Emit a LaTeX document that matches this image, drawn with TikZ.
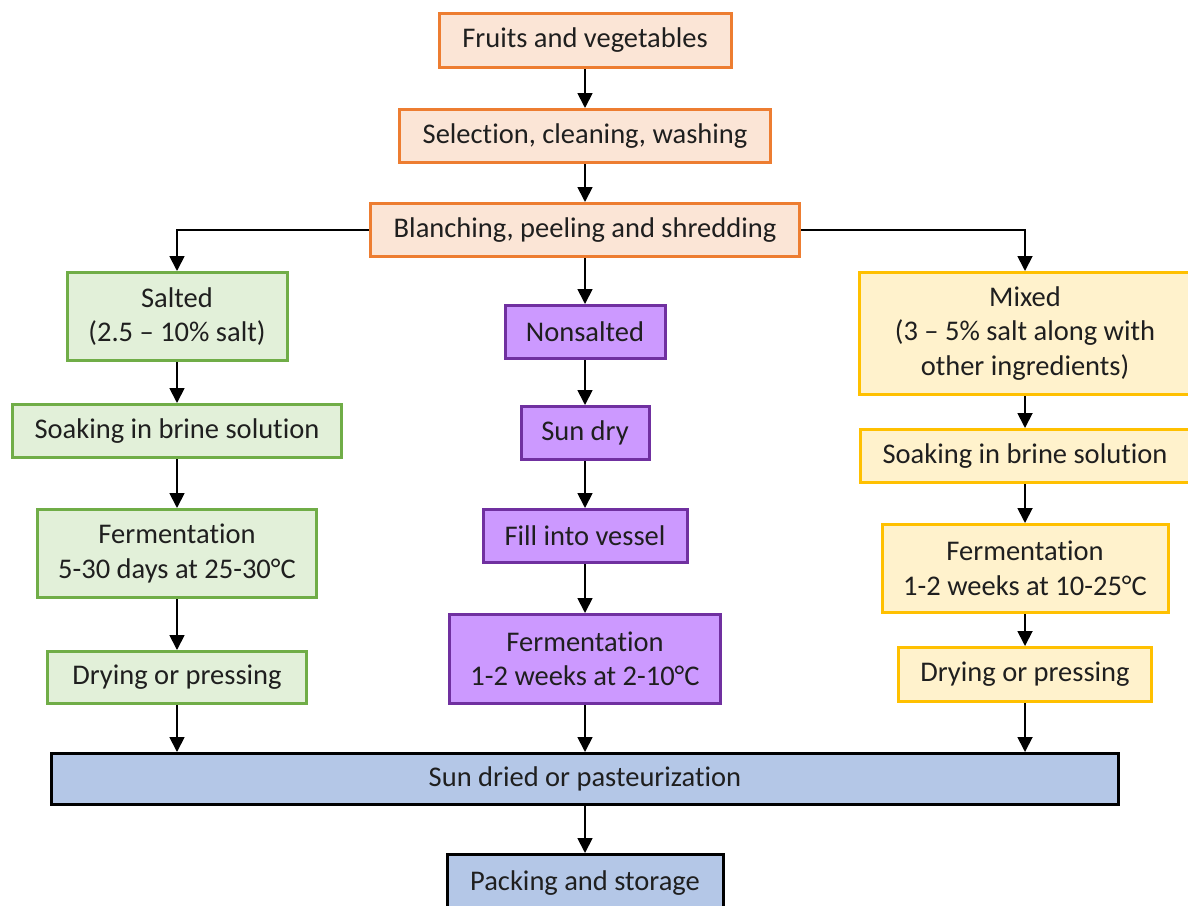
\documentclass[tikz,border=0pt]{standalone}
\usepackage{fontspec}
\setmainfont[RawFeature={-liga;-clig;-calt;-dlig}]{Carlito}
\usetikzlibrary{arrows.meta}
\definecolor{oB}{HTML}{ED7D31}\definecolor{oF}{HTML}{FBE5D6}
\definecolor{gB}{HTML}{70AD47}\definecolor{gF}{HTML}{E2F0D9}
\definecolor{pB}{HTML}{7030A0}\definecolor{pF}{HTML}{CC99FF}
\definecolor{yB}{HTML}{FFC000}\definecolor{yF}{HTML}{FFF2CC}
\definecolor{bF}{HTML}{B4C7E7}
\definecolor{txt}{HTML}{1F1F1F}
\begin{document}
\begin{tikzpicture}[x=1pt,y=-1pt,
  box/.style={rectangle,line width=3pt,inner sep=0pt,align=center,text=txt,
    font=\fontsize{28.5}{34.5}\selectfont},
  obox/.style={box,draw=oB,fill=oF},
  gbox/.style={box,draw=gB,fill=gF},
  pbox/.style={box,draw=pB,fill=pF},
  ybox/.style={box,draw=yB,fill=yF},
  bbox/.style={box,draw=black,fill=bF},
  arr/.style={line width=1.8pt,-{Triangle[width=15pt,length=15pt]}}]
\useasboundingbox (0,0) rectangle (1188,905);
% top
\node[obox,minimum width=292,minimum height=54] (fruit) at (585,40.5) {Fruits and vegetables};
\node[obox,minimum width=371,minimum height=53] (select) at (585,136) {Selection, cleaning, washing};
\node[obox,minimum width=429,minimum height=53] (blanch) at (585,230) {Blanching, peeling and shredding};
% left
\node[gbox,minimum width=220,minimum height=88] (salted) at (177,316.5) {Salted\\(2.5 – 10\% salt)};
\node[gbox,minimum width=329,minimum height=53] (soakL) at (177,431) {Soaking in brine solution};
\node[gbox,minimum width=279,minimum height=88] (fermL) at (177,553.5) {Fermentation\\5-30 days at 25-30°C};
\node[gbox,minimum width=259,minimum height=52] (dryL) at (177,677.5) {Drying or pressing};
% middle
\node[pbox,minimum width=160,minimum height=53] (nons) at (585,332) {Nonsalted};
\node[pbox,minimum width=128,minimum height=53] (sundry) at (585,433) {Sun dry};
\node[pbox,minimum width=204,minimum height=53] (fill) at (585,536) {Fill into vessel};
\node[pbox,minimum width=271,minimum height=89] (fermM) at (585,659) {Fermentation\\1-2 weeks at 2-10°C};
% right
\node[ybox,minimum width=331,minimum height=122] (mixed) at (1025,333.5) {Mixed\\(3 – 5\% salt along with\\other ingredients)};
\node[ybox,minimum width=329,minimum height=53] (soakR) at (1025,456) {Soaking in brine solution};
\node[ybox,minimum width=286,minimum height=88] (fermR) at (1025,568.5) {Fermentation\\1-2 weeks at 10-25°C};
\node[ybox,minimum width=253,minimum height=54] (dryR) at (1025,674.5) {Drying or pressing};
% bottom
\node[bbox,minimum width=1067,minimum height=51] (sund) at (585,779) {Sun dried or pasteurization};
\node[bbox,minimum width=276,minimum height=57] (pack) at (585,883) {Packing and storage};
% arrows
\draw[arr] (fruit) -- (select);
\draw[arr] (select) -- (blanch);
\draw[arr] (blanch.west) -| (salted.north);
\draw[arr] (blanch.east) -| (mixed.north);
\draw[arr] (blanch) -- (nons);
\draw[arr] (salted) -- (soakL);
\draw[arr] (soakL) -- (fermL);
\draw[arr] (fermL) -- (dryL);
\draw[arr] (dryL.south) -- (dryL.south |- sund.north);
\draw[arr] (nons) -- (sundry);
\draw[arr] (sundry) -- (fill);
\draw[arr] (fill) -- (fermM);
\draw[arr] (fermM) -- (sund);
\draw[arr] (mixed) -- (soakR);
\draw[arr] (soakR) -- (fermR);
\draw[arr] (fermR) -- (dryR);
\draw[arr] (dryR.south) -- (dryR.south |- sund.north);
\draw[arr] (sund) -- (pack);
\end{tikzpicture}
\end{document}
